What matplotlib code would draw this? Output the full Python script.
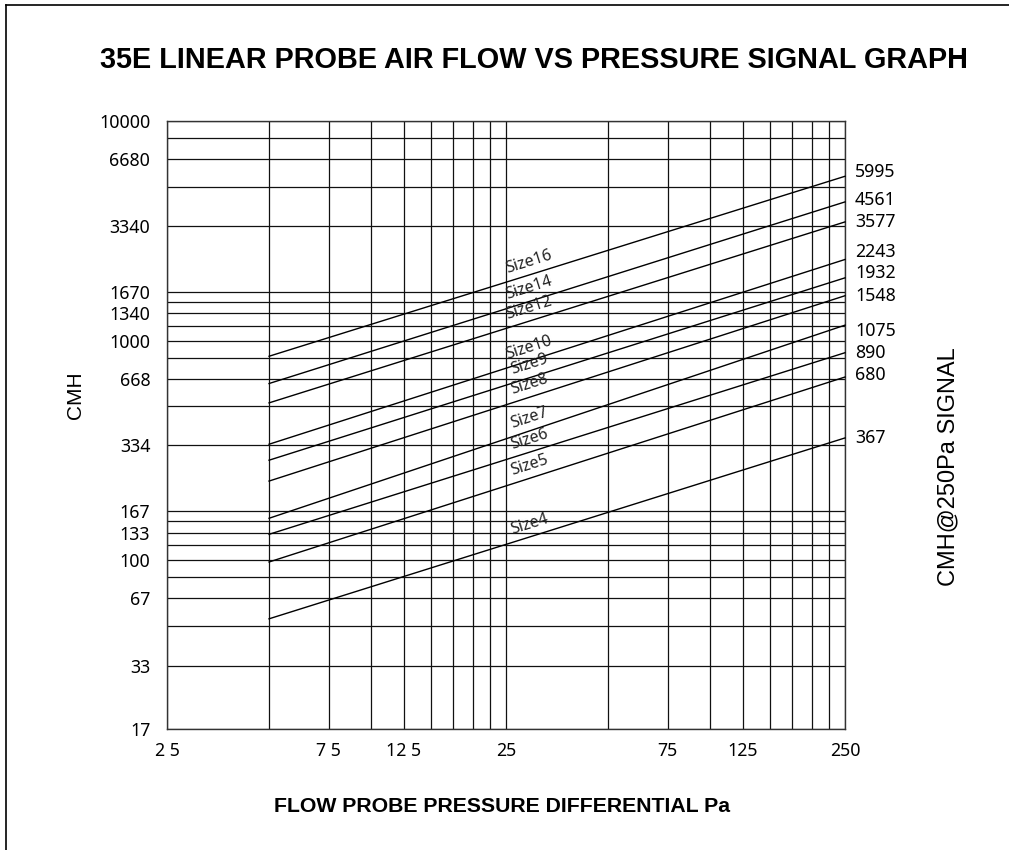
import numpy as np
import matplotlib.pyplot as plt
from matplotlib.lines import Line2D

# probe sizes, flow (CMH) at 5 Pa and at 250 Pa
sizes = ['Size16', 'Size14', 'Size12', 'Size10', 'Size9', 'Size8', 'Size7', 'Size6', 'Size5', 'Size4']
flow_at_5 = [848, 637, 520, 337, 285, 229, 155, 131, 98, 54]
flow_at_250 = [5600, 4280, 3470, 2340, 1930, 1600, 1175, 880, 682, 360]
signal_labels = ['5995', '4561', '3577', '2243', '1932', '1548', '1075', '890', '680', '367']
pressure_ends = [5, 250]

# axis ticks / grid
y_ticks = [17, 33, 67, 100, 133, 167, 334, 668, 1000, 1340, 1670, 3340, 6680, 10000]
y_ticklabels = ['17', '33', '67', '100', '133', '167', '334', '668', '1000', '1340', '1670', '3340', '6680', '10000']
y_grid_extra = [50, 83.5, 117, 150, 501, 835, 1169, 1503, 5010, 8350]
x_ticks = [2.5, 7.5, 12.5, 25, 75, 125, 250]
x_ticklabels = ['2 5', '7 5', '12 5', '25', '75', '125', '250']
x_grid = [2.5, 5, 7.5, 10, 12.5, 15, 17.5, 20, 22.5, 25,
          50, 75, 100, 125, 150, 175, 200, 225, 250]

# small vertical nudges (px) for the right-hand labels
label_nudge = [4, 2, 0, 7, 5, 0, -6, 0, 2, 0]

W, H = 1009, 850
fig = plt.figure(figsize=(W / 100, H / 100), dpi=100)
ax = fig.add_axes([167 / W, (H - 729) / H, (845 - 167) / W, (729 - 121) / H])
ax.set_xscale('log')
ax.set_yscale('log')
ax.set_xlim(2.5, 250)
ax.set_ylim(17, 10000)

gridkw = dict(color='#111111', lw=0.9, zorder=1)
for v in x_grid:
    ax.axvline(v, **gridkw)
for v in y_ticks + y_grid_extra:
    ax.axhline(v, **gridkw)

ax.set_xticks(x_ticks)
ax.set_xticklabels(x_ticklabels)
ax.set_xticks([], minor=True)
ax.set_yticks(y_ticks)
ax.set_yticklabels(y_ticklabels)
ax.set_yticks([], minor=True)
ax.tick_params(length=0, labelsize=12.8)
ax.tick_params(axis='y', pad=12)
ax.tick_params(axis='x', pad=9)
for lab in ax.get_xticklabels() + ax.get_yticklabels():
    lab.set_fontfamily('Noto Sans')
for s in ax.spines.values():
    s.set_linewidth(1.0)
    s.set_color('#333333')

for i, name in enumerate(sizes):
    ys = [flow_at_5[i], flow_at_250[i]]
    ax.plot(pressure_ends, ys, color='black', lw=1.0, zorder=3, clip_on=False)
    # label on the line at 30 Pa
    k = np.log(ys[1] / ys[0]) / np.log(pressure_ends[1] / pressure_ends[0])
    xl = 30
    yl = ys[0] * (xl / pressure_ends[0]) ** k
    p0 = ax.transData.transform((pressure_ends[0], ys[0]))
    p1 = ax.transData.transform((pressure_ends[1], ys[1]))
    ang = np.degrees(np.arctan2(p1[1] - p0[1], p1[0] - p0[0]))
    off = 12.5
    dx = -np.sin(np.radians(ang)) * off
    dy = np.cos(np.radians(ang)) * off
    ax.annotate(name, (xl, yl), xytext=(dx * 0.72, dy * 0.72), textcoords='offset points',
                rotation=ang, rotation_mode='anchor', ha='center', va='center',
                fontsize=11.5, family='Noto Sans', color='#222222', zorder=4)
    ax.annotate(signal_labels[i], (pressure_ends[1], ys[1]),
                xytext=(10 * 0.72, label_nudge[i] * 0.72), textcoords='offset points',
                ha='left', va='center', fontsize=12.8, family='Noto Sans',
                annotation_clip=False)

fig.text(534.5 / W, 1 - 60 / H, '35E LINEAR PROBE AIR FLOW VS PRESSURE SIGNAL GRAPH',
         ha='center', va='center', fontsize=20.8, fontweight='bold', family='Liberation Sans')
fig.text(502 / W, 1 - 807 / H, 'FLOW PROBE PRESSURE DIFFERENTIAL Pa',
         ha='center', va='center', fontsize=15.3, fontweight='bold', family='Liberation Sans')
fig.text(76 / W, 1 - 395 / H, 'CMH', rotation=90, ha='center', va='center',
         fontsize=15, family='Liberation Sans')
fig.text(948 / W, 1 - 467 / H, 'CMH@250Pa SIGNAL', rotation=90, ha='center', va='center',
         fontsize=17, family='Liberation Sans')

# page frame (top and left edges)
fig.add_artist(Line2D([6 / W, 1], [1 - 5 / H, 1 - 5 / H], color='black', lw=1.2))
fig.add_artist(Line2D([6 / W, 6 / W], [0, 1 - 5 / H], color='black', lw=1.2))

fig.savefig('out.png', dpi=100)
